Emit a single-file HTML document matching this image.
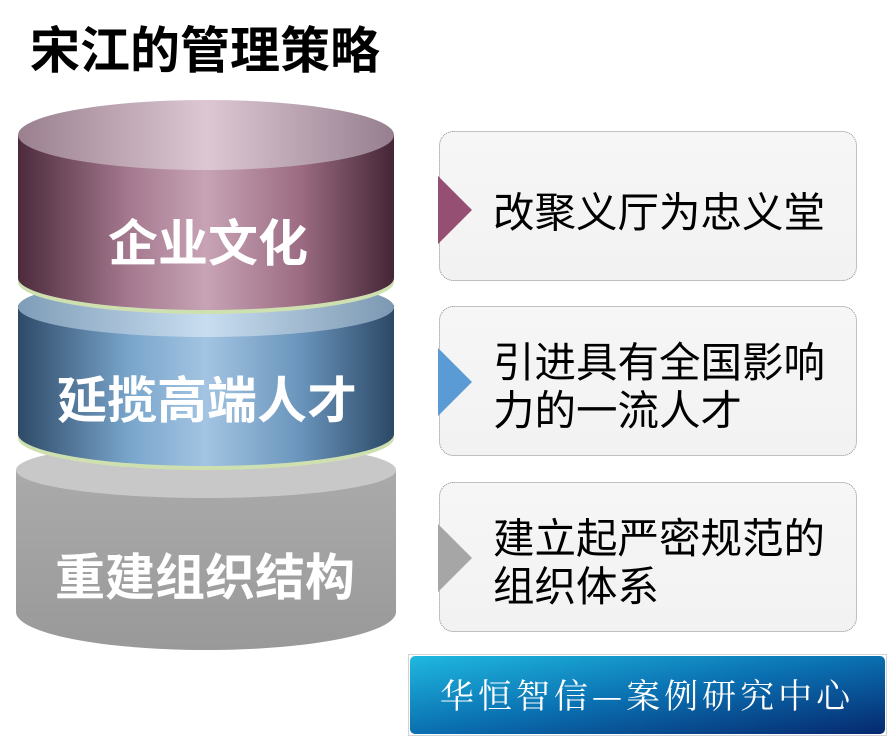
<!DOCTYPE html>
<html><head><meta charset="utf-8"><style>
html,body{margin:0;padding:0;background:#fff;}
body{width:889px;height:739px;overflow:hidden;position:relative;font-family:"Liberation Sans","Noto Sans CJK SC",sans-serif;}
</style></head><body>
<svg width="889" height="739" xmlns="http://www.w3.org/2000/svg" style="position:absolute;left:0;top:0">
<defs>
<linearGradient id="pur" x1="0" x2="1" y1="0" y2="0">
<stop offset="0" stop-color="#4c2a3c"/><stop offset="0.3" stop-color="#a67a90"/><stop offset="0.5" stop-color="#c7a3b5"/><stop offset="0.75" stop-color="#9c6c83"/><stop offset="1" stop-color="#442536"/></linearGradient>
<linearGradient id="purtop" x1="0" x2="1"><stop offset="0" stop-color="#9a808e"/><stop offset="0.5" stop-color="#ddc7d3"/><stop offset="1" stop-color="#968090"/></linearGradient>
<linearGradient id="blu" x1="0" x2="1"><stop offset="0" stop-color="#2e4a68"/><stop offset="0.3" stop-color="#7aa6cc"/><stop offset="0.5" stop-color="#a3c4e2"/><stop offset="0.75" stop-color="#6a95bc"/><stop offset="1" stop-color="#2c4866"/></linearGradient>
<linearGradient id="blutop" x1="0" x2="1"><stop offset="0" stop-color="#7f9db8"/><stop offset="0.5" stop-color="#c8ddf0"/><stop offset="1" stop-color="#7c98b2"/></linearGradient>
<linearGradient id="gry" x1="0" x2="0" y1="0" y2="1"><stop offset="0" stop-color="#aaaaaa"/><stop offset="1" stop-color="#999"/></linearGradient>
<linearGradient id="ban" x1="0" x2="1" y1="0" y2="1"><stop offset="0" stop-color="#1fb8e0"/><stop offset="0.5" stop-color="#0a6fb0"/><stop offset="1" stop-color="#06286e"/></linearGradient>
<linearGradient id="box" x1="0" x2="0" y1="0" y2="1"><stop offset="0" stop-color="#f6f6f6"/><stop offset="1" stop-color="#f2f2f2"/></linearGradient>
</defs>
<text x="30" y="68" font-size="50" font-weight="bold" fill="#000" font-family="Liberation Sans,Noto Sans CJK SC,sans-serif">宋江的管理策略</text>
<!-- gray -->
<path d="M16,470 L16,612 A190,38 0 0 0 396,612 L396,470 Z" fill="url(#gry)"/>
<ellipse cx="206" cy="470" rx="190" ry="28" fill="#c8c8c8"/>
<!-- blue -->
<path d="M18,305 L18,438 A188,32 0 0 0 394,438 L394,305 Z" fill="#cfe0b0"/>
<path d="M18,305 L18,434 A188,32 0 0 0 394,434 L394,305 Z" fill="url(#blu)"/>
<ellipse cx="206" cy="307" rx="188" ry="30" fill="url(#blutop)"/>
<!-- purple -->
<path d="M18,135 L18,282 A188,32 0 0 0 394,282 L394,135 Z" fill="#cfe0b0"/>
<path d="M18,135 L18,278 A188,32 0 0 0 394,278 L394,135 Z" fill="url(#pur)"/>
<ellipse cx="206" cy="135" rx="188" ry="35" fill="url(#purtop)"/>
<g font-size="50" font-weight="bold" fill="#fff" text-anchor="middle" font-family="Liberation Sans,Noto Sans CJK SC,sans-serif">
<text x="208" y="261">企业文化</text>
<text x="207" y="418">延揽高端人才</text>
<text x="205" y="595">重建组织结构</text>
</g>
<!-- boxes -->
<g stroke="#888" stroke-dasharray="1,1" fill="url(#box)">
<rect x="439.5" y="131.5" width="417" height="149" rx="14"/>
<rect x="439.5" y="306.5" width="417" height="149" rx="14"/>
<rect x="439.5" y="482.5" width="417" height="149" rx="14"/>
</g>
<polygon points="438,176 472,210 438,244" fill="#944f73"/>
<polygon points="438,348 472,382 438,416" fill="#5b9bd5"/>
<polygon points="438,524 472,558 438,592" fill="#a6a6a6"/>
<g font-size="41.5" fill="#000" font-family="Liberation Sans,Noto Sans CJK SC,sans-serif">
<text x="493" y="227">改聚义厅为忠义堂</text>
<text x="493" y="377">引进具有全国影响</text>
<text x="493" y="425">力的一流人才</text>
<text x="493" y="553">建立起严密规范的</text>
<text x="493" y="601">组织体系</text>
</g>
<!-- banner -->
<rect x="408.5" y="654.5" width="478" height="81" fill="none" stroke="#aaa" stroke-dasharray="1,1"/>
<rect x="410" y="656" width="475" height="78" rx="5" fill="url(#ban)"/>
<text x="647" y="708" font-size="34" fill="#fff" text-anchor="middle" font-family="Noto Serif CJK SC,serif" letter-spacing="4">华恒智信—案例研究中心</text>
</svg>
</body></html>
